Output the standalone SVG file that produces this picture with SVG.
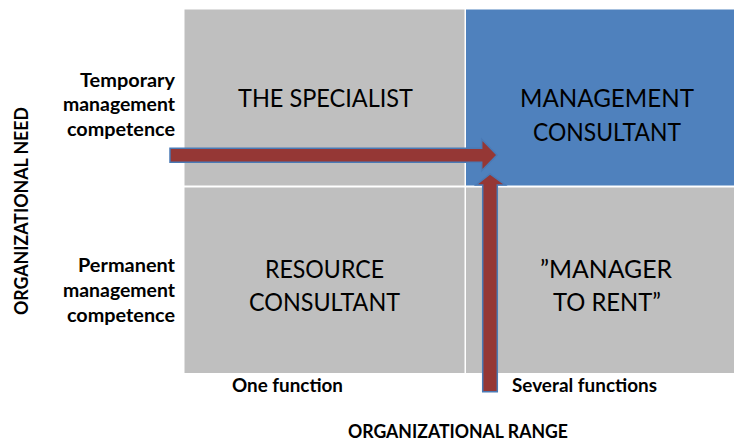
<svg xmlns="http://www.w3.org/2000/svg" width="734" height="441" viewBox="0 0 734 441">
<style>
.cell{fill:#bfbfbf}
.blue{fill:#4f81bd}
.q{font-family:Lato,"Liberation Sans",sans-serif;font-size:25px;fill:#000;text-anchor:middle}
.lab{font-family:Lato,"Liberation Sans",sans-serif;font-size:18px;font-weight:bold;fill:#000;text-anchor:end}
.ax{font-family:Lato,"Liberation Sans",sans-serif;font-size:18.5px;font-weight:bold;fill:#000}
.arrow{fill:#953735;stroke:#4a7ab5;stroke-width:1.5;stroke-linejoin:miter}
</style>
<rect width="734" height="441" fill="#fff"/>
<g id="specialist">
<rect class="cell" x="184.5" y="9.5" width="280" height="176"/>
<text class="q" x="325.5" y="107" textLength="175" lengthAdjust="spacingAndGlyphs">THE SPECIALIST</text>
</g>
<g id="management-consultant">
<rect class="blue" x="466" y="9.5" width="268" height="176"/>
<text class="q" x="607" y="107" textLength="174" lengthAdjust="spacingAndGlyphs">MANAGEMENT</text>
<text class="q" x="607" y="141" textLength="148" lengthAdjust="spacingAndGlyphs">CONSULTANT</text>
</g>
<g id="resource-consultant">
<rect class="cell" x="184.5" y="187.5" width="280" height="185.5"/>
<text class="q" x="324.5" y="278" textLength="119" lengthAdjust="spacingAndGlyphs">RESOURCE</text>
<text class="q" x="324.5" y="311" textLength="151" lengthAdjust="spacingAndGlyphs">CONSULTANT</text>
</g>
<g id="manager-to-rent">
<rect class="cell" x="466" y="187.5" width="268" height="185.5"/>
<text class="q" x="606" y="278" textLength="132" lengthAdjust="spacingAndGlyphs">”MANAGER</text>
<text class="q" x="607" y="311" textLength="108" lengthAdjust="spacingAndGlyphs">TO RENT”</text>
</g>
<g id="temporary-label">
<text class="lab" x="175" y="87" textLength="95" lengthAdjust="spacingAndGlyphs">Temporary</text>
<text class="lab" x="175" y="111" textLength="112" lengthAdjust="spacingAndGlyphs">management</text>
<text class="lab" x="175" y="136" textLength="108" lengthAdjust="spacingAndGlyphs">competence</text>
</g>
<g id="permanent-label">
<text class="lab" x="175" y="272" textLength="97" lengthAdjust="spacingAndGlyphs">Permanent</text>
<text class="lab" x="175" y="297" textLength="112" lengthAdjust="spacingAndGlyphs">management</text>
<text class="lab" x="175" y="322" textLength="108" lengthAdjust="spacingAndGlyphs">competence</text>
</g>
<g id="one-function">
<text class="ax" x="232" y="392" textLength="111" lengthAdjust="spacingAndGlyphs">One function</text>
</g>
<g id="several-functions">
<text class="ax" x="512" y="392" textLength="145" lengthAdjust="spacingAndGlyphs">Several functions</text>
</g>
<g id="organizational-range">
<text class="ax" x="458" y="438" text-anchor="middle" textLength="220" lengthAdjust="spacingAndGlyphs">ORGANIZATIONAL RANGE</text>
</g>
<g id="organizational-need">
<text class="ax" transform="translate(28,211) rotate(-90)" x="0" y="0" text-anchor="middle" textLength="208" lengthAdjust="spacingAndGlyphs">ORGANIZATIONAL NEED</text>
</g>
<g id="connectors">
<path class="arrow" d="M170,148.3 H481.7 V139.3 L497,155 L481.7,170.7 V162.3 H170 Z"/>
<path class="arrow" d="M482.7,391.7 V185 H476 L490,174 L505.3,185 H497.3 V391.7 Z"/>
</g>
</svg>
